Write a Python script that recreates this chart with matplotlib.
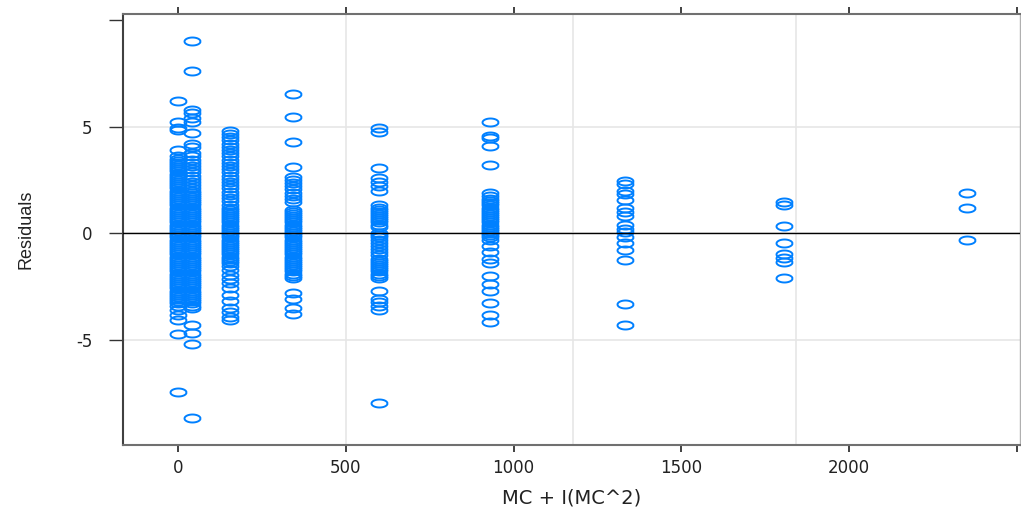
import numpy as np
import matplotlib
matplotlib.use("Agg")
import matplotlib.pyplot as plt

plt.rcParams['font.family'] = ['DejaVu Sans']

# x values (MC + MC^2) of each column of residuals
x_vals = [0, 42, 156, 342, 600, 930, 1332, 1806, 2352]

res_0 = [6.2, 5.2, 4.95, 4.85, 3.9,
         3.6, 3.5, 3.4, 3.3, 3.2, 3.1, 3.0, 2.9, 2.8, 2.7, 2.6, 2.5, 2.4, 2.3, 2.2,
         2.1, 2.0, 1.9, 1.8, 1.7, 1.6, 1.5, 1.4, 1.3, 1.2, 1.1, 1.0, 0.9, 0.8, 0.7,
         0.6, 0.5, 0.4, 0.3, 0.2, 0.1, 0.0, -0.1, -0.2, -0.3, -0.4, -0.5, -0.6, -0.7,
         -0.8, -0.9, -1.0, -1.1, -1.2, -1.3, -1.4, -1.5, -1.6, -1.7, -1.8, -1.9, -2.0,
         -2.1, -2.2, -2.3, -2.4, -2.5, -2.6, -2.7, -2.8, -2.9, -3.0, -3.1, -3.2, -3.3,
         -3.4, -3.6, -3.85, -4.1, -4.75, -7.45]
res_1 = [9.0, 7.6, 5.8, 5.65, 5.4, 5.2, 4.7, 4.2, 4.05,
         3.75, 3.6, 3.45, 3.3, 3.15, 3.0, 2.85, 2.7, 2.55, 2.4, 2.25, 2.1, 2.0, 1.9,
         1.8, 1.7, 1.6, 1.5, 1.4, 1.3, 1.2, 1.1, 1.0, 0.9, 0.8, 0.7, 0.6, 0.5, 0.4,
         0.3, 0.2, 0.1, 0.0, -0.1, -0.2, -0.3, -0.4, -0.5, -0.6, -0.7, -0.8, -0.9,
         -1.0, -1.1, -1.2, -1.3, -1.4, -1.5, -1.6, -1.7, -1.8, -1.9, -2.0, -2.1, -2.2,
         -2.3, -2.4, -2.5, -2.6, -2.7, -2.8, -2.9, -3.0, -3.1, -3.2, -3.3, -3.4, -3.5,
         -4.3, -4.7, -5.2, -8.7]
res_2 = [4.8, 4.65, 4.5, 4.35, 4.2, 4.05, 3.9, 3.75, 3.6, 3.45, 3.3, 3.15, 3.0,
         2.85, 2.7, 2.55, 2.4, 2.25, 2.1, 1.95, 1.8, 1.65, 1.5,
         1.3, 1.2, 1.1, 1.0, 0.9, 0.8, 0.7, 0.6, 0.5, 0.4, 0.3, 0.2, 0.1, 0.0, -0.1,
         -0.2, -0.3, -0.4, -0.5, -0.6, -0.7, -0.8, -0.9, -1.0, -1.1, -1.2, -1.3, -1.4,
         -1.55, -1.75, -1.95, -2.15, -2.35, -2.6, -2.9, -3.2, -3.5, -3.7, -3.95, -4.1]
res_3 = [6.55, 5.45, 4.3, 3.1, 2.65, 2.5, 2.35, 2.2, 2.05, 1.9, 1.75, 1.6, 1.45,
         1.1, 1.0, 0.9, 0.8, 0.7, 0.6, 0.5, 0.4, 0.3, 0.2, 0.1, 0.0, -0.1, -0.2, -0.3,
         -0.4, -0.5, -0.6, -0.7, -0.8, -0.9, -1.0, -1.1, -1.2, -1.3, -1.4, -1.5, -1.6,
         -1.7, -1.8, -1.9, -2.0, -2.1, -2.8, -3.1, -3.5, -3.8]
res_4 = [4.95, 4.75, 3.05, 2.6, 2.4, 2.2, 2.0,
         1.3, 1.2, 1.1, 1.0, 0.9, 0.8, 0.7, 0.6, 0.5, 0.4, 0.3, 0.0, -0.1, -0.2, -0.3,
         -0.45, -0.6, -0.75, -0.9, -1.05, -1.2, -1.3, -1.4, -1.5, -1.6, -1.7, -1.8,
         -1.9, -2.0, -2.1, -2.7, -3.1, -3.25, -3.4, -3.6, -8.0]
res_5 = [5.2, 4.55, 4.45, 4.1, 3.2,
         1.9, 1.75, 1.6, 1.5, 1.4, 1.3, 1.2, 1.1, 1.0, 0.9, 0.8, 0.7, 0.6, 0.5, 0.4,
         0.3, 0.2, 0.1, 0.0, -0.1, -0.2, -0.3, -0.6, -0.9, -1.2, -1.4, -2.0, -2.4,
         -2.7, -3.3, -3.85, -4.15]
res_6 = [2.45, 2.3, 2.0, 1.85, 1.55, 1.2, 1.0, 0.8, 0.4, 0.2, 0.05, -0.2, -0.45,
         -0.8, -1.25, -3.35, -4.3]
res_7 = [1.45, 1.3, 0.33, -0.45, -1.0, -1.15, -1.35, -2.1]
res_8 = [1.9, 1.2, -0.3]

columnas = [res_0, res_1, res_2, res_3, res_4, res_5, res_6, res_7, res_8]

x_ticks = [0, 500, 1000, 1500, 2000, 2500]
y_ticks = [-5, 0, 5, 10]
grid_x = [500, 1176, 1842]
grid_y = [-5, 0, 5]

AZUL = "#0080ff"

# marcador eliptico (el original esta estirado en horizontal)
t = np.linspace(0, 2 * np.pi, 40)
elipse = np.column_stack([np.cos(t), 0.5 * np.sin(t)])

fig = plt.figure(figsize=(10.21, 5.08), dpi=100)
ax = fig.add_axes([0.1205, 0.124, 0.8786, 0.848])

for g in grid_x:
    ax.axvline(g, color="#e6e6e6", linewidth=1.2, zorder=0)
for g in grid_y:
    ax.axhline(g, color="#e6e6e6", linewidth=1.2, zorder=0)

for xv, col in zip(x_vals, columnas):
    ax.plot([xv] * len(col), col, linestyle="none", marker=elipse, markersize=11.5,
            markerfacecolor="none", markeredgecolor=AZUL, markeredgewidth=1.4, zorder=3)

ax.axhline(0, color="black", linewidth=1.0, zorder=4)

ax.set_xlim(-164, 2510)
ax.set_ylim(-9.95, 10.28)
ax.set_xticks(x_ticks)
ax.set_xticklabels(["0", "500", "1000", "1500", "2000", ""])
ax.set_yticks(y_ticks)
ax.set_yticklabels(["-5", "0", "5", ""])

ax.tick_params(axis="x", direction="out", length=5, width=1.3, top=True, labeltop=False,
               labelsize=12, pad=5, colors="#333333", labelcolor="#222222")
ax.tick_params(axis="y", direction="out", length=10, width=1.0, right=False,
               labelsize=12, pad=12, colors="#333333", labelcolor="#222222")

ax.spines["left"].set_color("#404040")
ax.spines["left"].set_linewidth(1.5)
for s in ["top", "bottom"]:
    ax.spines[s].set_color("#707070")
    ax.spines[s].set_linewidth(1.5)
ax.spines["right"].set_color("#b0b0b0")
ax.spines["right"].set_linewidth(1.0)

ax.set_xlabel("MC + I(MC^2)", fontsize=14, labelpad=8, color="#222222")
ax.set_ylabel("Residuals", fontsize=13, labelpad=30, color="#222222",
              family="Liberation Sans")

plt.savefig("out.png", dpi=100)
